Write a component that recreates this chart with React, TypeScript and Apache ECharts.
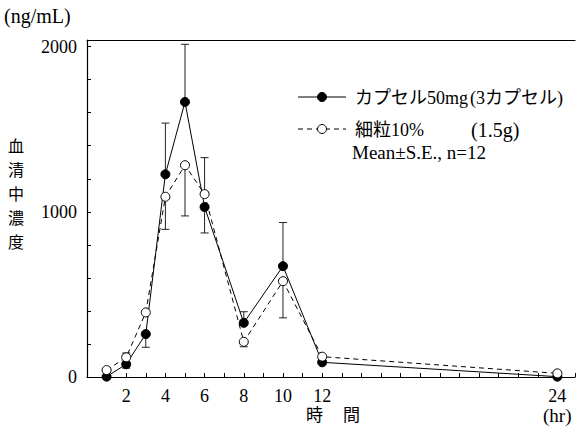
import React, { useEffect, useRef } from "react";
import * as echarts from "echarts";

const times = [1, 2, 3, 4, 5, 6, 8, 10, 12, 24];
const capsuleMean = [2, 77, 260, 1227, 1665, 1029, 328, 671, 89, 2];
const fineMean = [42, 119, 391, 1091, 1282, 1107, 213, 580, 123, 22];
// S.E. bar end values (null = not drawn)
const capsuleErrEnd = [null, 54, 180, 1537, 2014, 872, 395, 935, null, null];
const fineErrEnd = [null, 145, null, 894, 975, 1328, 183, 358, null, null];
const xTickLabels = [2, 4, 6, 8, 10, 12, 24];
const yTickLabels = [0, 1000, 2000];

const FONT = "Liberation Serif, Noto Sans CJK JP, serif";

export default function App() {
  const ref = useRef<HTMLDivElement>(null);
  useEffect(() => {
    if (!ref.current) return;
    const chart = echarts.init(ref.current, undefined, { renderer: "svg" });
    const capsuleData = times.map((t, i) => [t, capsuleMean[i]]);
    const fineData = times.map((t, i) => [t, fineMean[i]]);
    const errData: number[][] = [];
    times.forEach((t, i) => {
      if (capsuleErrEnd[i] != null) errData.push([t, capsuleMean[i], capsuleErrEnd[i] as number]);
      if (fineErrEnd[i] != null) errData.push([t, fineMean[i], fineErrEnd[i] as number]);
    });
    const txt = (text: string, left: number, cy: number, size: number) => ({
      type: "text",
      left,
      top: cy - size / 2,
      style: { text, fontFamily: FONT, fontSize: size, fill: "#000" },
    });
    const option: any = {
      animation: false,
      textStyle: { fontFamily: FONT },
      grid: { left: 87, right: 0, top: 40, bottom: 53 },
      xAxis: [
        {
          type: "value",
          min: 0,
          max: 24.9,
          interval: 1,
          axisLine: { show: true, lineStyle: { color: "#000", width: 1.2 } },
          axisTick: { show: true, inside: true, length: 4, lineStyle: { color: "#000" } },
          splitLine: { show: false },
          axisLabel: {
            margin: 10,
            color: "#000",
            fontFamily: FONT,
            fontSize: 18,
            formatter: (v: number) => (xTickLabels.indexOf(v) >= 0 ? String(v) : ""),
          },
        },
        {
          type: "value",
          position: "top",
          min: 0,
          max: 24.9,
          axisLine: { show: true, lineStyle: { color: "#000", width: 1.2 } },
          axisTick: { show: false },
          axisLabel: { show: false },
          splitLine: { show: false },
        },
      ],
      yAxis: {
        type: "value",
        min: 0,
        max: 2040,
        interval: 200,
        axisLine: { show: true, lineStyle: { color: "#000", width: 1.2 } },
        axisTick: { show: true, inside: true, length: 4, lineStyle: { color: "#000" } },
        splitLine: { show: false },
        axisLabel: {
          margin: 10,
          color: "#000",
          fontFamily: FONT,
          fontSize: 18,
          formatter: (v: number) => (yTickLabels.indexOf(v) >= 0 ? String(v) : ""),
        },
      },
      series: [
        {
          type: "custom",
          name: "SE",
          z: 1,
          data: errData,
          renderItem: (params: any, api: any) => {
            const t = api.value(0);
            const m = api.value(1);
            const e = api.value(2);
            const p0 = api.coord([t, m]);
            const p1 = api.coord([t, e]);
            const style = { stroke: "#222", lineWidth: 1 };
            return {
              type: "group",
              children: [
                { type: "line", shape: { x1: p0[0], y1: p0[1], x2: p1[0], y2: p1[1] }, style },
                { type: "line", shape: { x1: p1[0] - 4, y1: p1[1], x2: p1[0] + 4, y2: p1[1] }, style },
              ],
            };
          },
        },
        {
          type: "line",
          name: "カプセル50mg(3カプセル)",
          data: capsuleData,
          z: 3,
          symbol: "circle",
          symbolSize: 9,
          lineStyle: { color: "#000", width: 1 },
          itemStyle: { color: "#000", borderColor: "#000", borderWidth: 1 },
        },
        {
          type: "line",
          name: "細粒10%",
          data: fineData,
          z: 4,
          symbol: "circle",
          symbolSize: 9,
          lineStyle: { color: "#000", width: 1, type: [5, 4] },
          itemStyle: { color: "#fff", borderColor: "#000", borderWidth: 1 },
        },
      ],
      graphic: [
        txt("(ng/mL)", 4, 16, 20),
        {
          type: "text",
          left: 8,
          top: 134,
          style: { text: "血\n清\n中\n濃\n度", fontFamily: FONT, fontSize: 16, lineHeight: 24, fill: "#000" },
        },
        txt("時", 306, 415, 17),
        txt("間", 343, 415, 17),
        txt("(hr)", 543, 415, 19),
        // legend
        { type: "line", shape: { x1: 298, y1: 97, x2: 346, y2: 97 }, style: { stroke: "#000", lineWidth: 1 } },
        { type: "circle", shape: { cx: 322, cy: 97, r: 4.5 }, style: { fill: "#000", stroke: "#000" } },
        txt("カプセル", 355, 98, 18),
        txt("50mg", 427, 98, 18),
        txt("(3カプセル)", 470, 98, 18),
        {
          type: "line",
          shape: { x1: 298, y1: 129, x2: 346, y2: 129 },
          style: { stroke: "#000", lineWidth: 1, lineDash: [5, 4] },
        },
        { type: "circle", shape: { cx: 322, cy: 129, r: 4.5 }, style: { fill: "#fff", stroke: "#000", lineWidth: 1 } },
        txt("細粒", 355, 130, 18),
        txt("10%", 391, 130, 18),
        txt("(1.5g)", 471, 130, 20),
        txt("Mean±S.E., n=12", 352, 152, 19),
      ],
    };
    chart.setOption(option);
    return () => chart.dispose();
  }, []);
  return <div ref={ref} style={{ position: "fixed", left: 0, top: 0, width: 578, height: 430, background: "#fff" }} />;
}
